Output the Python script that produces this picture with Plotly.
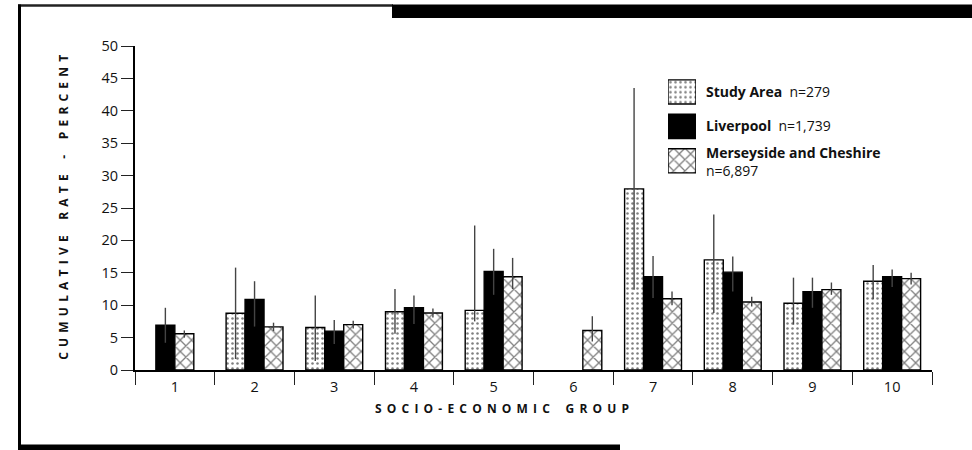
import plotly.graph_objects as go

# ---- data -------------------------------------------------------------
groups = ["1", "2", "3", "4", "5", "6", "7", "8", "9", "10"]

study_rate = [None, 8.75, 6.55, 9.0, 9.2, None, 27.95, 17.0, 10.3, 13.7]
study_hi = [None, 15.8, 11.5, 12.5, 22.3, None, 43.5, 24.0, 14.25, 16.2]
study_lo = [None, 1.7, 1.4, 5.6, 7.5, None, 12.4, 8.8, 7.0, 10.9]

liverpool_rate = [6.9, 10.9, 6.0, 9.6, 15.2, None, 14.4, 15.1, 12.1, 14.4]
liverpool_hi = [9.6, 13.7, 7.7, 11.5, 18.7, None, 17.6, 17.5, 14.25, 15.5]
liverpool_lo = [4.2, 6.7, 4.0, 7.1, 11.6, None, 11.1, 12.1, 9.6, 12.8]

mersey_rate = [5.6, 6.65, 7.0, 8.8, 14.4, 6.1, 11.0, 10.5, 12.4, 14.1]
mersey_hi = [6.1, 7.3, 7.6, 9.5, 17.3, 8.3, 12.1, 11.3, 13.5, 15.0]
mersey_lo = [5.0, 6.0, 6.4, 8.1, 12.5, 4.4, 10.0, 9.8, 11.6, 13.2]

series_names = ["Study Area", "Liverpool", "Merseyside and Cheshire"]
series_n = ["n=279", "n=1,739", "n=6,897"]

# ---- geometry helpers ------------------------------------------------
W, H = 972, 450
L, R, T, B = 135, 40, 46, 79.5
PW, PH = W - L - R, H - T - B


def px_x(px):
    return (px - L) / PW


def px_y(py):
    return (H - B - py) / PH


FONT = "Open Sans"
BAR_W = 0.238

STUDY_PAT = dict(shape=".", fgcolor="black", bgcolor="white", size=5, solidity=0.2)
MERSEY_PAT = dict(shape="x", fgcolor="black", bgcolor="white", size=8, solidity=0.3)
LIVER_PAT = dict(shape="", fgcolor="black", bgcolor="black")
OUTLINE = dict(color="black", width=1.4)
ERR_COL = "#444"


def err(rate, hi, lo):
    plus = [None if r is None else h - r for r, h in zip(rate, hi)]
    minus = [None if r is None else r - l for r, l in zip(rate, lo)]
    return dict(type="data", symmetric=False, array=plus, arrayminus=minus,
                color=ERR_COL, thickness=1.4, width=0)


# slot offsets; where the study bar is absent the remaining pair is centred
shift = [BAR_W / 2 if (s is None and lv is not None) else 0.0
         for s, lv in zip(study_rate, liverpool_rate)]
off_study = [-1.5 * BAR_W for _ in groups]
off_liver = [-0.5 * BAR_W - sh for sh in shift]
off_mersey = [0.5 * BAR_W - sh for sh in shift]

fig = go.Figure()
fig.add_trace(go.Bar(x=groups, y=study_rate, width=BAR_W, offset=off_study,
                     marker=dict(color="white", line=OUTLINE, pattern=STUDY_PAT),
                     error_y=err(study_rate, study_hi, study_lo), name=series_names[0]))
fig.add_trace(go.Bar(x=groups, y=liverpool_rate, width=BAR_W, offset=off_liver,
                     marker=dict(color="black", line=OUTLINE),
                     error_y=err(liverpool_rate, liverpool_hi, liverpool_lo), name=series_names[1]))
fig.add_trace(go.Bar(x=groups, y=mersey_rate, width=BAR_W, offset=off_mersey,
                     marker=dict(color="white", line=OUTLINE, pattern=MERSEY_PAT),
                     error_y=err(mersey_rate, mersey_hi, mersey_lo), name=series_names[2]))

# key swatches drawn as a small inset bar chart
key_pos = [0, 1, 2]
key_fill = ["white", "black", "white"]
key_pats = [STUDY_PAT, LIVER_PAT, MERSEY_PAT]
for i in range(3):
    fig.add_trace(go.Bar(x=[1], y=[key_pos[i]], orientation="h", width=0.70,
                         marker=dict(color=key_fill[i], line=OUTLINE, pattern=key_pats[i]),
                         xaxis="x2", yaxis="y2", showlegend=False, hoverinfo="skip"))

fig.update_layout(
    width=W, height=H,
    margin=dict(l=L, r=R, t=T, b=B),
    paper_bgcolor="white", plot_bgcolor="white",
    barmode="overlay", showlegend=False,
    font=dict(family=FONT, size=14.5, color="#111"),
    xaxis=dict(type="category", range=[-0.5, 9.5], showline=True, linecolor="black",
               linewidth=2, ticks="outside", tickson="boundaries", ticklen=13,
               tickwidth=1.4, tickcolor="#222", showgrid=False, zeroline=False,
               ticklabelstandoff=3),
    yaxis=dict(range=[0, 50], dtick=5, showline=True, linecolor="black", linewidth=2,
               ticks="outside", ticklen=12, tickwidth=1.4, tickcolor="#222",
               showgrid=False, zeroline=False),
    xaxis2=dict(domain=[px_x(668), px_x(696)], range=[0, 1], visible=False,
                anchor="y2"),
    yaxis2=dict(domain=[px_y(178.25), px_y(74.75)], range=[2.5, -0.5], visible=False,
                anchor="x2"),
)

# key labels
key_y = [92, 126, 161.5]
key_text = [
    f"<b>{series_names[0]}</b>  {series_n[0]}",
    f"<b>{series_names[1]}</b>  {series_n[1]}",
    f"<b>{series_names[2]}</b><br>{series_n[2]}",
]
for ty, txt in zip(key_y, key_text):
    fig.add_annotation(x=px_x(704), y=px_y(ty), xref="paper", yref="paper",
                       text=txt, showarrow=False, xanchor="left", yanchor="middle",
                       align="left", font=dict(family=FONT, size=14, color="#111"))

GAP = "\u2004\u200a"


def spaced(s):
    return GAP.join(s).replace(GAP + " " + GAP, GAP * 3)


fig.add_annotation(x=px_x(502), y=px_y(409), xref="paper", yref="paper",
                   text="<b>" + spaced("SOCIO-ECONOMIC GROUP") + "</b>",
                   showarrow=False, xanchor="center", yanchor="middle",
                   font=dict(family=FONT, size=12, color="#111"))
fig.add_annotation(x=px_x(64), y=px_y(208), xref="paper", yref="paper",
                   text="<b>" + spaced("CUMULATIVE RATE - PERCENT") + "</b>",
                   showarrow=False, xanchor="center", yanchor="middle", textangle=-90,
                   font=dict(family=FONT, size=12, color="#111"))

# decorative page frame
frame = [
    dict(type="line", x0=px_x(18), x1=px_x(393), y0=px_y(5.5), y1=px_y(5.5),
         line=dict(color="#222", width=2.5)),
    dict(type="rect", x0=px_x(392), x1=px_x(973), y0=px_y(4.5), y1=px_y(18),
         fillcolor="black", line=dict(width=0)),
    dict(type="line", x0=px_x(19.5), x1=px_x(19.5), y0=px_y(4.5), y1=px_y(451),
         line=dict(color="black", width=3)),
    dict(type="rect", x0=px_x(18), x1=px_x(620), y0=px_y(445), y1=px_y(451),
         fillcolor="black", line=dict(width=0)),
]
for s in frame:
    s.update(xref="paper", yref="paper", layer="above")
    fig.add_shape(**s)

fig.write_html("out.html")
